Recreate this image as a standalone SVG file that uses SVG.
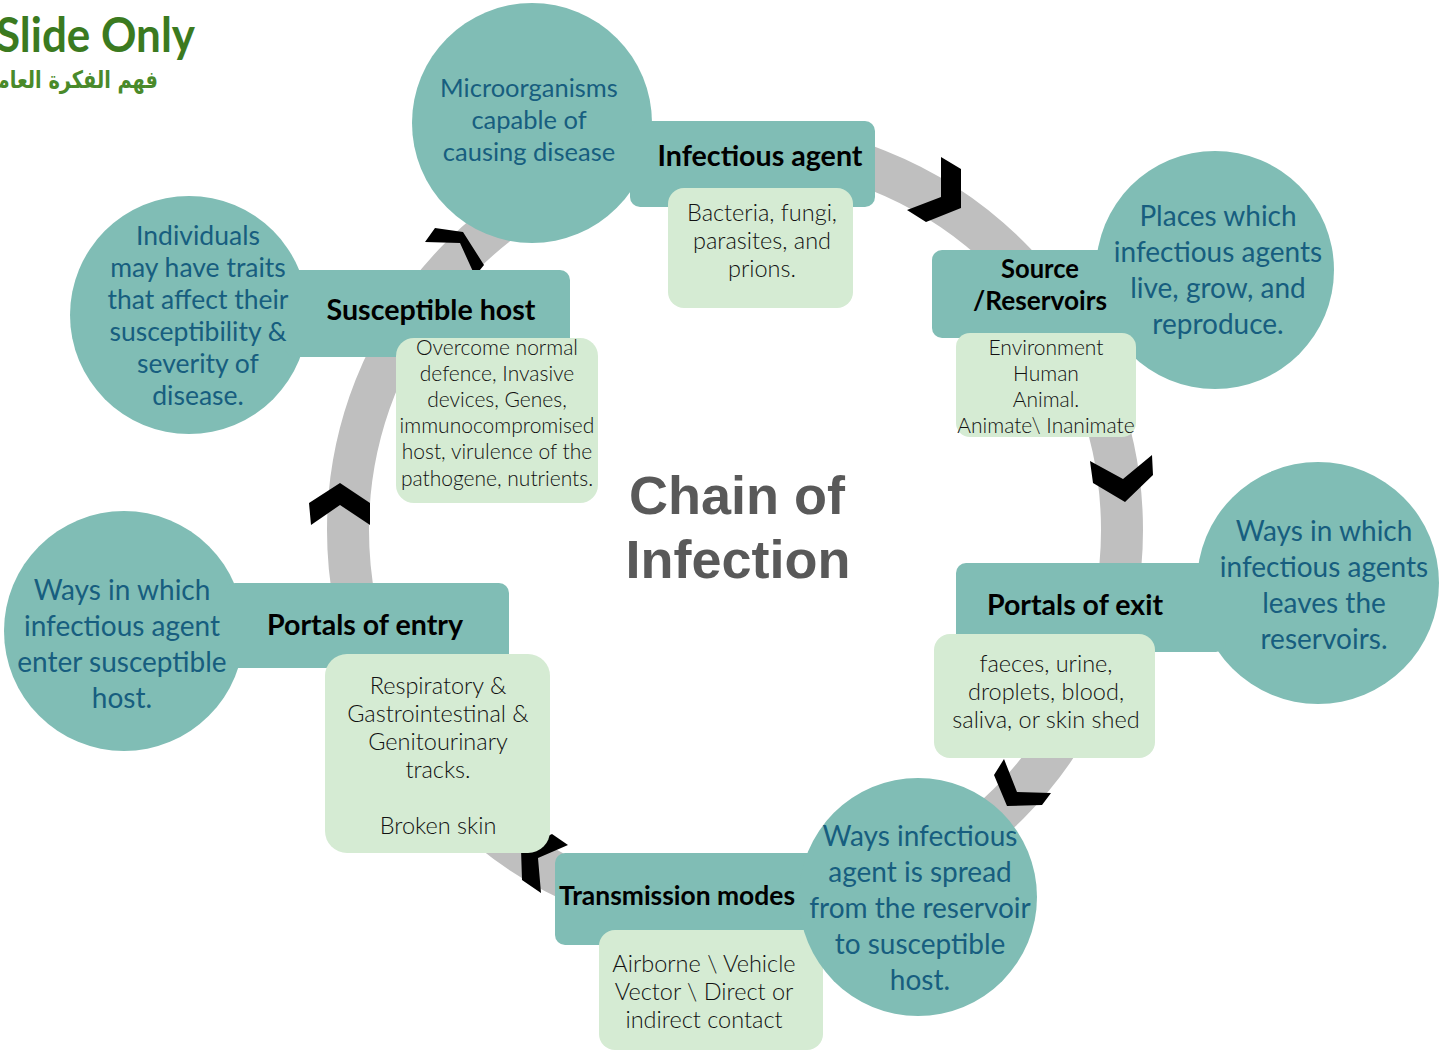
<svg xmlns="http://www.w3.org/2000/svg" width="1441" height="1055" viewBox="0 0 1441 1055">
<style>
.teal{fill:#80bdb5}
.light{fill:#d5ebd3}
.chev{fill:#000}
.ctext{font-family:Lato,"Noto Sans",sans-serif;fill:#175e7f;text-anchor:middle}
.btext{font-family:Lato,"Noto Sans",sans-serif;fill:#111;text-anchor:middle;font-weight:300}
.label{font-family:Lato,"Noto Sans",sans-serif;fill:#000;font-weight:bold;text-anchor:middle}
</style>
<rect width="1441" height="1055" fill="#fff"/>
<g id="connectors">
<circle cx="735" cy="530" r="387" fill="none" stroke="#bfbfbf" stroke-width="42"/>
<polygon class="chev" points="941,157 961,169 961,208 926,222 907,210 941,197"/>
<polygon class="chev" points="1090,461 1123,479 1152,455 1153,475 1125,502 1093,483"/>
<polygon class="chev" points="1004,759 1017,792 1051,793 1042,805 1007,806 994,775"/>
<polygon class="chev" points="521,849 552,834 568,845 538,858 541,893 522,880"/>
<polygon class="chev" points="340,483 370,503 370,525 340,505 311,525 309,503"/>
<polygon class="chev" points="435,228 463,232 484,265 475,276 460,243 425,242"/>
</g>
<g id="title">
<text x="-4" y="52" font-family="Lato,'Noto Sans',sans-serif" font-weight="bold" font-size="48" fill="#3b7a1f" textLength="199" lengthAdjust="spacingAndGlyphs">Slide Only</text>
<text x="158" y="88" font-family="'DejaVu Sans',sans-serif" font-weight="bold" font-size="24" fill="#4a8a2a" text-anchor="end" textLength="172" lengthAdjust="spacingAndGlyphs">فهم الفكرة العامة</text>
</g>
<g id="center-title" font-family="'Liberation Sans',Arial,sans-serif" font-weight="bold" font-size="54" fill="#595959" text-anchor="middle">
<text x="737" y="514">Chain of</text>
<text x="738" y="578">Infection</text>
</g>
<g id="infectious-agent">
<circle class="teal" cx="532" cy="123" r="120"/>
<rect class="teal" x="630" y="121" width="245" height="86" rx="10"/>
<rect class="light" x="668" y="188" width="185" height="120" rx="16"/>
<text class="ctext" font-size="25.5"><tspan x="529" y="97">Microorganisms</tspan><tspan x="529" y="129">capable of</tspan><tspan x="529" y="161">causing disease</tspan></text>
<text class="label" x="760" y="166" font-size="28" textLength="205" lengthAdjust="spacingAndGlyphs">Infectious agent</text>
<text class="btext" font-size="23.5"><tspan x="762" y="221">Bacteria, fungi,</tspan><tspan x="762" y="249">parasites, and</tspan><tspan x="762" y="277">prions.</tspan></text>
</g>
<g id="source-reservoirs">
<circle class="teal" cx="1215" cy="270" r="119"/>
<rect class="teal" x="932" y="250" width="200" height="88" rx="10"/>
<rect class="light" x="956" y="333" width="180" height="104" rx="14"/>
<text class="label" font-size="26"><tspan x="1040" y="278" textLength="78" lengthAdjust="spacingAndGlyphs">Source</tspan><tspan x="1040" y="310" textLength="134" lengthAdjust="spacingAndGlyphs">/Reservoirs</tspan></text>
<text class="btext" font-size="21"><tspan x="1046" y="355">Environment</tspan><tspan x="1046" y="381">Human</tspan><tspan x="1046" y="407">Animal.</tspan><tspan x="1046" y="433">Animate\ Inanimate</tspan></text>
<text class="ctext" font-size="28"><tspan x="1218" y="226">Places which</tspan><tspan x="1218" y="262">infectious agents</tspan><tspan x="1218" y="298">live, grow, and</tspan><tspan x="1218" y="334">reproduce.</tspan></text>
</g>
<g id="portals-of-exit">
<circle class="teal" cx="1318" cy="583" r="121"/>
<rect class="teal" x="956" y="563" width="270" height="89" rx="10"/>
<rect class="light" x="934" y="634" width="221" height="124" rx="16"/>
<text class="label" x="1075" y="615" font-size="28" textLength="176" lengthAdjust="spacingAndGlyphs">Portals of exit</text>
<text class="btext" font-size="23.5"><tspan x="1046" y="672">faeces, urine,</tspan><tspan x="1046" y="700">droplets, blood,</tspan><tspan x="1046" y="728">saliva, or skin shed</tspan></text>
<text class="ctext" font-size="28"><tspan x="1324" y="541">Ways in which</tspan><tspan x="1324" y="577">infectious agents</tspan><tspan x="1324" y="613">leaves the</tspan><tspan x="1324" y="649">reservoirs.</tspan></text>
</g>
<g id="transmission-modes">
<rect class="teal" x="555" y="853" width="280" height="92" rx="10"/>
<rect class="light" x="599" y="930" width="224" height="120" rx="16"/>
<circle class="teal" cx="918" cy="897" r="119"/>
<text class="label" x="677" y="905" font-size="27" textLength="236" lengthAdjust="spacingAndGlyphs">Transmission modes</text>
<text class="btext" font-size="23.5"><tspan x="704" y="972">Airborne \ Vehicle</tspan><tspan x="704" y="1000">Vector \ Direct or</tspan><tspan x="704" y="1028">indirect contact</tspan></text>
<text class="ctext" font-size="28"><tspan x="920" y="846">Ways infectious</tspan><tspan x="920" y="882">agent is spread</tspan><tspan x="920" y="918">from the reservoir</tspan><tspan x="920" y="954">to susceptible</tspan><tspan x="920" y="990">host.</tspan></text>
</g>
<g id="portals-of-entry">
<circle class="teal" cx="124" cy="631" r="120"/>
<rect class="teal" x="225" y="583" width="284" height="85" rx="10"/>
<rect class="light" x="325" y="654" width="225" height="199" rx="22"/>
<text class="label" x="365" y="635" font-size="28" textLength="196" lengthAdjust="spacingAndGlyphs">Portals of entry</text>
<text class="btext" font-size="23.5"><tspan x="438" y="694">Respiratory &amp;</tspan><tspan x="438" y="722">Gastrointestinal &amp;</tspan><tspan x="438" y="750">Genitourinary</tspan><tspan x="438" y="778">tracks.</tspan><tspan x="438" y="834">Broken skin</tspan></text>
<text class="ctext" font-size="28"><tspan x="122" y="600">Ways in which</tspan><tspan x="122" y="636">infectious agent</tspan><tspan x="122" y="672">enter susceptible</tspan><tspan x="122" y="708">host.</tspan></text>
</g>
<g id="susceptible-host">
<circle class="teal" cx="189" cy="315" r="119"/>
<rect class="teal" x="285" y="270" width="285" height="87" rx="10"/>
<rect class="light" x="396" y="338" width="202" height="165" rx="18"/>
<text class="label" x="431" y="320" font-size="28" textLength="209" lengthAdjust="spacingAndGlyphs">Susceptible host</text>
<text class="btext" font-size="21"><tspan x="497" y="355">Overcome normal</tspan><tspan x="497" y="381">defence, Invasive</tspan><tspan x="497" y="407">devices, Genes,</tspan><tspan x="497" y="433">immunocompromised</tspan><tspan x="497" y="459">host, virulence of the</tspan><tspan x="497" y="486">pathogene, nutrients.</tspan></text>
<text class="ctext" font-size="26.5"><tspan x="198" y="245">Individuals</tspan><tspan x="198" y="277">may have traits</tspan><tspan x="198" y="309">that affect their</tspan><tspan x="198" y="341">susceptibility &amp;</tspan><tspan x="198" y="373">severity of</tspan><tspan x="198" y="405">disease.</tspan></text>
</g>
</svg>
